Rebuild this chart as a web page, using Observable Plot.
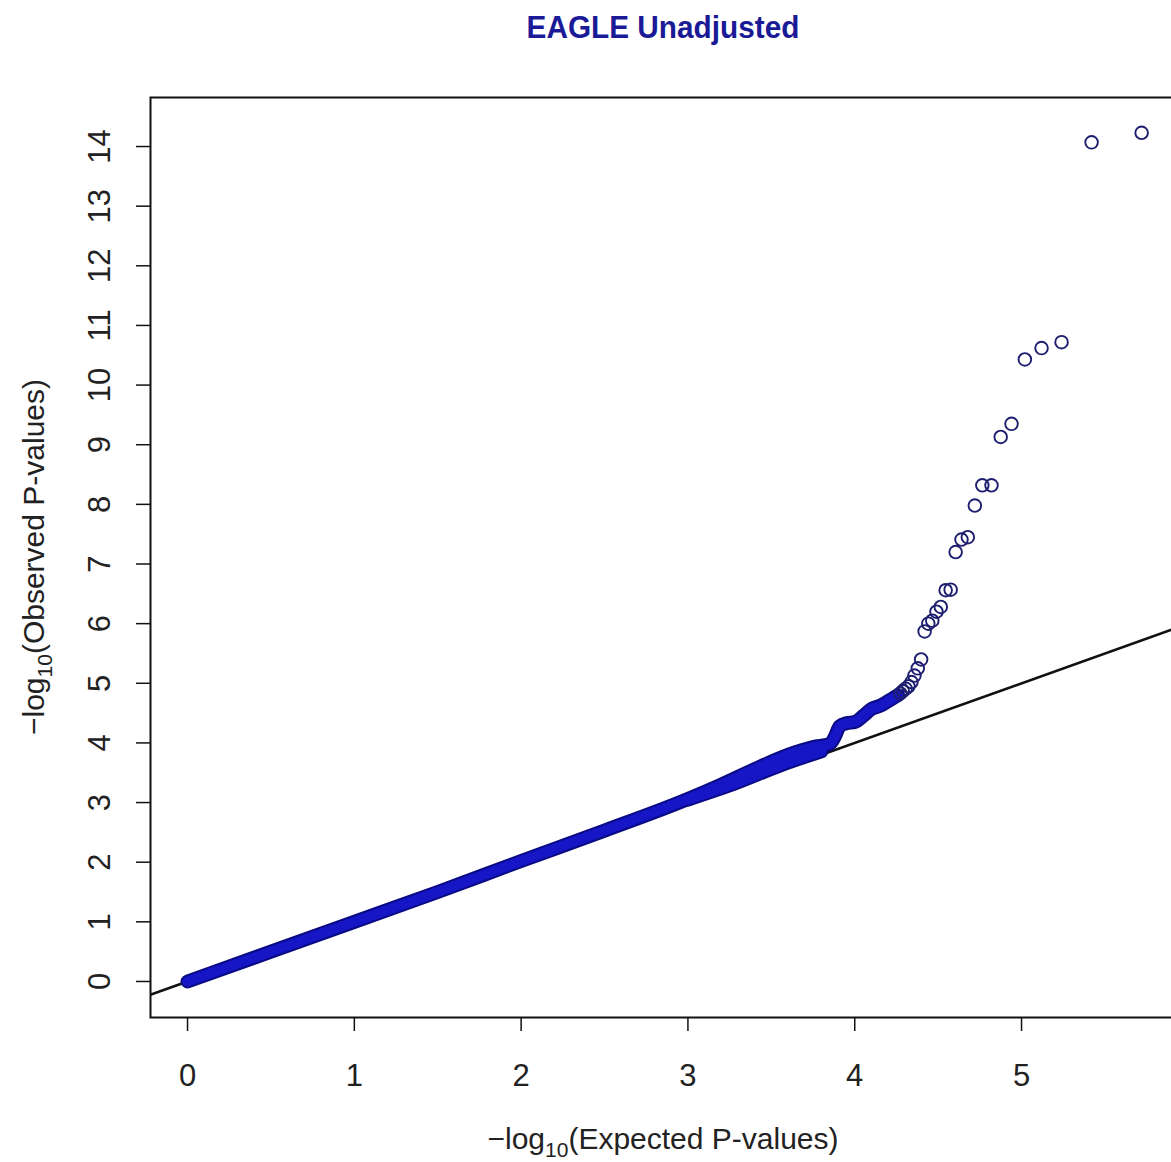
<!DOCTYPE html>
<html>
<head>
<meta charset="utf-8">
<script src="https://cdn.jsdelivr.net/npm/d3@7"></script>
<script src="https://cdn.jsdelivr.net/npm/@observablehq/plot@0.6"></script>
<style>
  html, body { margin: 0; padding: 0; background: #fff; overflow: hidden; width: 1171px; height: 1162px; }
  #title { height: 60px; width: 1171px; position: relative; }
  #title span { position: absolute; left: 663px; top: 9px; transform: translateX(-50%) scaleX(0.93);
    font-family: "Liberation Sans", Arial, sans-serif; font-weight: bold; font-size: 32px; color: #1a1a96; white-space: nowrap; }
  #chart { width: 1200px; }
  #chart svg { max-width: none !important; display: block; }
</style>
</head>
<body>
<div id="title"><span>EAGLE Unadjusted</span></div>
<div id="chart"></div>
<script>
// Ticks
const xTicks = [0, 1, 2, 3, 4, 5];
const yTicks = [0, 1, 2, 3, 4, 5, 6, 7, 8, 9, 10, 11, 12, 13, 14];

// Dense band of overlapping points (read along the band centre)
const bandExpected = [0, 0.5, 1, 1.5, 2, 2.5, 3, 3.2, 3.4, 3.6, 3.75, 3.85, 3.88, 3.91, 3.95, 4.0, 4.05, 4.1, 4.15, 4.2, 4.26];
const bandObserved = [0, 0.5, 1, 1.5, 2.02, 2.53, 3.06, 3.3, 3.56, 3.8, 3.93, 3.98, 4.1, 4.28, 4.33, 4.35, 4.45, 4.57, 4.62, 4.7, 4.8];
// Lower edge of the band where it widens
const lowerExpected = [3.0, 3.3, 3.55, 3.8];
const lowerObserved = [3.05, 3.34, 3.62, 3.86];

// Individual tail points
const tailExpected = [5.72, 5.42, 5.24, 5.12, 5.02, 4.94, 4.875, 4.82, 4.765, 4.72, 4.678, 4.64, 4.605, 4.575, 4.545, 4.516, 4.49, 4.465, 4.441, 4.419, 4.398, 4.378, 4.358, 4.34, 4.322, 4.305, 4.288, 4.273];
const tailObserved = [14.23, 14.07, 10.72, 10.62, 10.43, 9.35, 9.13, 8.32, 8.32, 7.98, 7.45, 7.41, 7.20, 6.57, 6.56, 6.28, 6.20, 6.05, 6.00, 5.87, 5.40, 5.25, 5.13, 5.02, 4.95, 4.91, 4.87, 4.83];

// Reference line y = x
const refX = [-2, 8];

const band = bandExpected.map((e, i) => ({e, o: bandObserved[i]}));
const lower = lowerExpected.map((e, i) => ({e, o: lowerObserved[i]}));
const tail = tailExpected.map((e, i) => ({e, o: tailObserved[i]}));

const W = 1200, H = 1102;
const font = '"Liberation Sans", Arial, sans-serif';

const plot = Plot.plot({
  width: W,
  height: H,
  marginLeft: 150,
  marginRight: 16,
  marginTop: 37,
  marginBottom: 145,
  style: { fontFamily: font, background: "white", color: "#222", maxWidth: "none" },
  x: { domain: [-0.222, 5.977], label: null },
  y: { domain: [-0.604, 14.822], label: null },
  marks: [
    Plot.link([{x1: refX[0], x2: refX[1]}], { x1: "x1", y1: "x1", x2: "x2", y2: "x2", stroke: "#111", strokeWidth: 2.6, clip: true }),
    Plot.line(band, { x: "e", y: "o", stroke: "#0a0a84", strokeWidth: 14, strokeLinecap: "round", strokeLinejoin: "round", curve: "monotone-x" }),
    Plot.line(lower, { x: "e", y: "o", stroke: "#0a0a84", strokeWidth: 14, strokeLinecap: "round", curve: "monotone-x" }),
    Plot.line(band, { x: "e", y: "o", stroke: "#1616c6", strokeWidth: 10, strokeLinecap: "round", strokeLinejoin: "round", curve: "monotone-x" }),
    Plot.line(lower, { x: "e", y: "o", stroke: "#1616c6", strokeWidth: 10, strokeLinecap: "round", curve: "monotone-x" }),
    Plot.dot(tail, { x: "e", y: "o", r: 6.3, stroke: "#1e1e70", strokeWidth: 1.9, fill: "none" }),
    Plot.frame({ stroke: "#111", strokeWidth: 2 }),
    Plot.axisX({ ticks: xTicks, tickSize: 14, tickPadding: 32, fontSize: 31, tickFormat: d => String(d), stroke: "#111", strokeWidth: 1.5, color: "#222", label: null }),
    Plot.axisY({ ticks: yTicks, tickSize: 14, tickPadding: 27, tickRotate: -90, fontSize: 31, tickFormat: d => String(d), stroke: "#111", strokeWidth: 1.5, color: "#222", label: null })
  ]
});

plot.style.maxWidth = "none";
document.getElementById("chart").appendChild(plot);

// Axis titles with subscripts
const svg = d3.select(plot);
const xs = plot.scale("x"), ys = plot.scale("y");
const cx = 663;
const cy = (ys.range[0] + ys.range[1]) / 2;

function addLabel(g, pre, sub, post) {
  g.append("tspan").text(pre);
  g.append("tspan").text(sub).attr("font-size", 21).attr("dy", 8);
  g.append("tspan").text(post).attr("dy", -8);
}

const xl = svg.append("text")
  .attr("x", cx).attr("y", 1089)
  .attr("text-anchor", "middle")
  .attr("font-family", font).attr("font-size", 30).attr("fill", "#222");
addLabel(xl, "\u2212log", "10", "(Expected P-values)");

const yl = svg.append("text")
  .attr("transform", `translate(44,${cy}) rotate(-90)`)
  .attr("text-anchor", "middle")
  .attr("font-family", font).attr("font-size", 30).attr("fill", "#222");
addLabel(yl, "\u2212log", "10", "(Observed P-values)");
</script>
</body>
</html>
